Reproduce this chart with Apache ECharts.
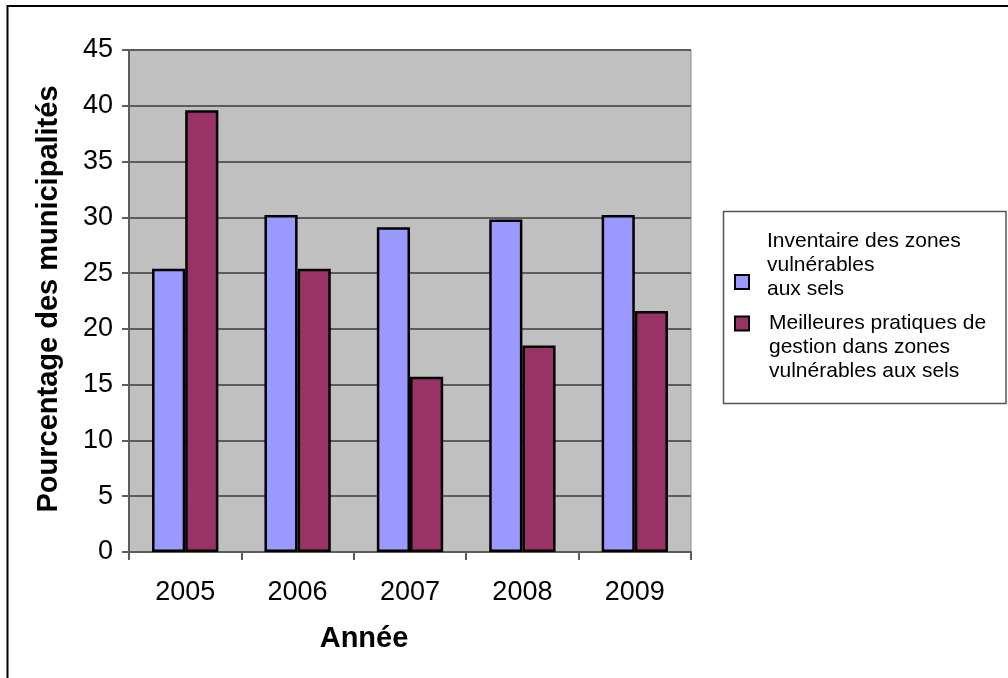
<!DOCTYPE html>
<html>
<head>
<meta charset="utf-8">
<title>Pourcentage des municipalités</title>
<script src="https://cdn.jsdelivr.net/npm/echarts@6/dist/echarts.min.js"></script>
<style>
  html, body { margin: 0; padding: 0; background: #ffffff; }
  #chart { width: 1008px; height: 678px; }
</style>
</head>
<body>
<div id="chart"></div>
<script>
// Années et pourcentages par série
const years = ['2005', '2006', '2007', '2008', '2009'];
const inventaire = [25.4, 30.2, 29.1, 29.8, 30.2];
const meilleuresPratiques = [39.6, 25.4, 15.7, 18.5, 21.6];

const nameInventaire = 'Inventaire des zones vulnérables aux sels';
const nameMeilleures = 'Meilleures pratiques de gestion dans zones vulnérables aux sels';

// Libellés de légende sur plusieurs lignes; la ligne « s » sert d'espacement vertical
const legendLines = {};
legendLines[nameInventaire] = '{t|Inventaire des zones}\n{t|vulnérables}\n{t|aux sels}\n{s| }';
legendLines[nameMeilleures] = '{s2| }\n{t|Meilleures pratiques de}\n{t|gestion dans zones}\n{t|vulnérables aux sels}';

const FONT = '"Liberation Sans", Arial, Helvetica, sans-serif';
const GRID_COLOR = '#5c5c5c';

const chart = echarts.init(document.getElementById('chart'), null, { renderer: 'canvas' });

function legendFor(name, top, textPadLeft) {
  return {
    data: [name],
    orient: 'vertical',
    left: 734,
    top: top,
    padding: 0,
    icon: 'rect',
    itemWidth: 14,
    itemHeight: 14,
    selectedMode: false,
    formatter: n => legendLines[n],
    textStyle: {
      fontFamily: FONT,
      fontSize: 21,
      color: '#000',
      rich: {
        t: { fontFamily: FONT, fontSize: 21, lineHeight: 24, color: '#000', padding: [0, 0, 0, textPadLeft] },
        s: { fontSize: 10, lineHeight: 33 },
        s2: { fontSize: 10, lineHeight: 47 }
      }
    }
  };
}

chart.setOption({
  backgroundColor: '#ffffff',
  animation: false,
  textStyle: { fontFamily: FONT },
  grid: {
    left: 129,
    right: 317,
    top: 50,
    bottom: 126,
    show: true,
    backgroundColor: '#C0C0C0',
    borderColor: '#8a8a8a',
    borderWidth: 1
  },
  legend: [
    legendFor(nameInventaire, 231, 13),
    legendFor(nameMeilleures, 282.5, 15)
  ],
  xAxis: {
    type: 'category',
    data: years,
    name: 'Année',
    nameLocation: 'middle',
    nameGap: 72,
    nameTextStyle: {
      fontFamily: FONT,
      fontSize: 29,
      fontWeight: 'bold',
      color: '#000',
      padding: [0, 92, 0, 0]
    },
    axisLine: { show: true, lineStyle: { color: GRID_COLOR, width: 2 } },
    axisTick: { show: true, length: 8, lineStyle: { color: GRID_COLOR, width: 2 } },
    axisLabel: { fontFamily: FONT, fontSize: 27, color: '#000', margin: 27 },
    splitLine: { show: false }
  },
  yAxis: {
    type: 'value',
    min: 0,
    max: 45,
    interval: 5,
    name: 'Pourcentage des municipalités',
    nameLocation: 'middle',
    nameRotate: 90,
    nameGap: 66,
    nameTextStyle: {
      fontFamily: FONT,
      fontSize: 29,
      fontWeight: 'bold',
      color: '#000',
      padding: [0, 0, 0, 4]
    },
    axisLine: { show: true, lineStyle: { color: GRID_COLOR, width: 2 } },
    axisTick: { show: true, length: 7, lineStyle: { color: GRID_COLOR, width: 2 } },
    axisLabel: { fontFamily: FONT, fontSize: 27, color: '#000', margin: 16 },
    splitLine: { show: true, lineStyle: { color: GRID_COLOR, width: 2 } }
  },
  series: [
    {
      name: nameInventaire,
      type: 'bar',
      data: inventaire,
      barGap: '0%',
      barCategoryGap: '41%',
      itemStyle: { color: '#9999FF', borderColor: '#000', borderWidth: 2.5 }
    },
    {
      name: nameMeilleures,
      type: 'bar',
      data: meilleuresPratiques,
      barGap: '0%',
      barCategoryGap: '41%',
      itemStyle: { color: '#993366', borderColor: '#000', borderWidth: 2.5 }
    }
  ],
  graphic: [
    // cadre du graphique (bords haut et gauche)
    { type: 'line', silent: true, shape: { x1: 7, y1: 6, x2: 1008, y2: 6 }, style: { stroke: '#000', lineWidth: 2 } },
    { type: 'line', silent: true, shape: { x1: 7.5, y1: 5, x2: 7.5, y2: 678 }, style: { stroke: '#000', lineWidth: 2 } },
    // encadré de la légende
    { type: 'rect', silent: true, z: -1, shape: { x: 723.5, y: 211.5, width: 282.5, height: 192 }, style: { fill: '#ffffff', stroke: '#555555', lineWidth: 1.5 } }
  ]
});
</script>
</body>
</html>
